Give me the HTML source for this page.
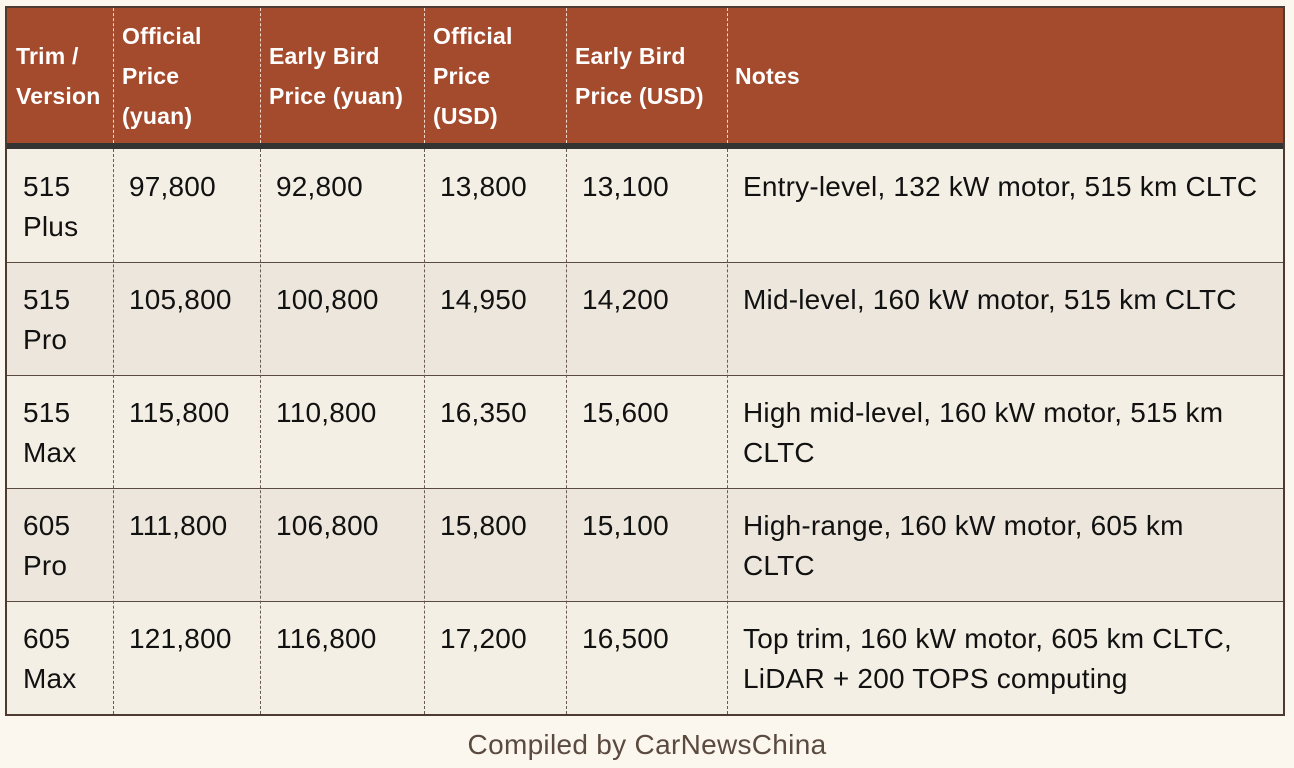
<!DOCTYPE html>
<html><head><meta charset="utf-8"><style>
*{margin:0;padding:0;box-sizing:border-box}
body{width:1294px;height:768px;background:#fbf7ee;font-family:"Liberation Sans",Arial,sans-serif;position:relative;overflow:hidden}
.tbl{position:absolute;left:5px;top:6px;width:1280px;height:710px;border:2px solid #4d3b31;background:#f4efe4}
.hdr{position:absolute;left:0;top:0;width:1276px;height:135px;background:#a54b2d}
.bar{position:absolute;left:0;top:135px;width:1276px;height:6px;background:#333}
.row{position:absolute;left:0;width:1276px;height:113px;border-top:1px solid #5a4a40}
.vl{position:absolute;width:0;border-left:1px dashed #6a5a50}
.vh{position:absolute;top:0;height:135px;width:0;border-left:1px dashed #f0d8cc}
.h{position:absolute;color:#fff;font-weight:bold;font-size:23px;line-height:40px;display:flex;align-items:center;height:135px;top:0;letter-spacing:0.2px}
.c{position:absolute;color:#111;font-size:28px;line-height:40px;letter-spacing:0.2px;white-space:nowrap}
.cap{position:absolute;top:729px;left:0;width:1294px;text-align:center;font-size:28px;color:#5a4a40;letter-spacing:0.3px}
</style></head><body>
<div class="tbl">
<div class="hdr"></div>
<div class="bar"></div>
<div class="row" style="top:141px;background:#f4efe4;border-top:none"></div>
<div class="row" style="top:254px;background:#ece6dc"></div>
<div class="row" style="top:367px;background:#f4efe4"></div>
<div class="row" style="top:480px;background:#ece6dc"></div>
<div class="row" style="top:593px;background:#f4efe4"></div>
<div class="vh" style="left:106px"></div><div class="vh" style="left:253px"></div><div class="vh" style="left:417px"></div><div class="vh" style="left:559px"></div><div class="vh" style="left:720px"></div>
<div class="vl" style="left:106px;top:141px;height:565px"></div><div class="vl" style="left:253px;top:141px;height:565px"></div><div class="vl" style="left:417px;top:141px;height:565px"></div><div class="vl" style="left:559px;top:141px;height:565px"></div><div class="vl" style="left:720px;top:141px;height:565px"></div>
<div class="h" style="left:9px">Trim /<br>Version</div>
<div class="h" style="left:115px">Official<br>Price<br>(yuan)</div>
<div class="h" style="left:262px">Early Bird<br>Price (yuan)</div>
<div class="h" style="left:426px">Official<br>Price<br>(USD)</div>
<div class="h" style="left:568px">Early Bird<br>Price (USD)</div>
<div class="h" style="left:728px">Notes</div>

<div class="c" style="left:16px;top:159px">515<br>Plus</div>
<div class="c" style="left:122px;top:159px">97,800</div>
<div class="c" style="left:269px;top:159px">92,800</div>
<div class="c" style="left:433px;top:159px">13,800</div>
<div class="c" style="left:575px;top:159px">13,100</div>
<div class="c" style="left:736px;top:159px">Entry-level, 132 kW motor, 515 km CLTC</div>

<div class="c" style="left:16px;top:272px">515<br>Pro</div>
<div class="c" style="left:122px;top:272px">105,800</div>
<div class="c" style="left:269px;top:272px">100,800</div>
<div class="c" style="left:433px;top:272px">14,950</div>
<div class="c" style="left:575px;top:272px">14,200</div>
<div class="c" style="left:736px;top:272px">Mid-level, 160 kW motor, 515 km CLTC</div>

<div class="c" style="left:16px;top:385px">515<br>Max</div>
<div class="c" style="left:122px;top:385px">115,800</div>
<div class="c" style="left:269px;top:385px">110,800</div>
<div class="c" style="left:433px;top:385px">16,350</div>
<div class="c" style="left:575px;top:385px">15,600</div>
<div class="c" style="left:736px;top:385px">High mid-level, 160 kW motor, 515 km<br>CLTC</div>

<div class="c" style="left:16px;top:498px">605<br>Pro</div>
<div class="c" style="left:122px;top:498px">111,800</div>
<div class="c" style="left:269px;top:498px">106,800</div>
<div class="c" style="left:433px;top:498px">15,800</div>
<div class="c" style="left:575px;top:498px">15,100</div>
<div class="c" style="left:736px;top:498px">High-range, 160 kW motor, 605 km<br>CLTC</div>

<div class="c" style="left:16px;top:611px">605<br>Max</div>
<div class="c" style="left:122px;top:611px">121,800</div>
<div class="c" style="left:269px;top:611px">116,800</div>
<div class="c" style="left:433px;top:611px">17,200</div>
<div class="c" style="left:575px;top:611px">16,500</div>
<div class="c" style="left:736px;top:611px">Top trim, 160 kW motor, 605 km CLTC,<br>LiDAR + 200 TOPS computing</div>
</div>
<div class="cap">Compiled by CarNewsChina</div>
</body></html>
